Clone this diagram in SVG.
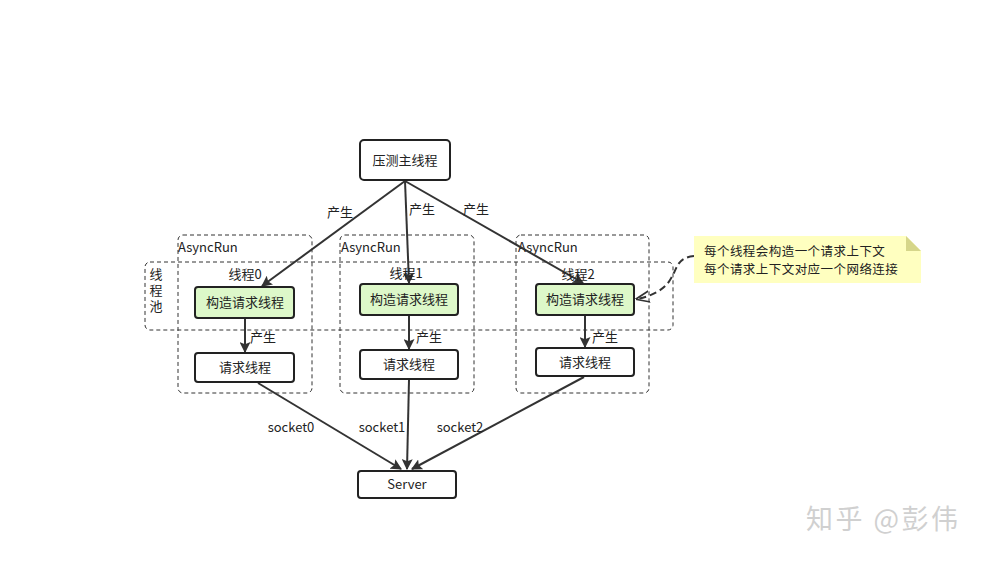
<svg xmlns="http://www.w3.org/2000/svg" width="984" height="561" viewBox="0 0 984 561">
<style>
text{font-family:"Noto Sans CJK SC","Liberation Sans",sans-serif;font-size:13px;fill:#222}
.c{text-anchor:middle}
.node{fill:#fff;stroke:#222;stroke-width:2}
.green{fill:#ddf8c9;stroke:#222;stroke-width:2}
.dash{fill:none;stroke:#333;stroke-width:1;stroke-dasharray:4 3}
.edge{fill:none;stroke:#333;stroke-width:2}
.note{font-size:12.5px;letter-spacing:0.45px}
</style>
<defs>
<marker id="ah2" viewBox="0 0 10 10" refX="9" refY="5" markerWidth="11" markerHeight="11" orient="auto" markerUnits="userSpaceOnUse">
<path d="M0,0 L10,5 L0,10 L2,5 Z" fill="#333"/>
</marker>
<marker id="open" viewBox="0 0 10 10" refX="9" refY="5" markerWidth="14" markerHeight="14" orient="auto" markerUnits="userSpaceOnUse">
<path d="M0,1 L10,5 L0,9" fill="none" stroke="#333" stroke-width="1.2"/>
</marker>
</defs>
<rect width="984" height="561" fill="#fff"/>

<g id="containers">
<rect class="dash" x="178" y="235" width="134" height="158" rx="5"/>
<text x="178" y="252">AsyncRun</text>
<rect class="dash" x="340" y="235" width="134" height="158" rx="5"/>
<text x="341" y="252">AsyncRun</text>
<rect class="dash" x="516" y="235" width="133" height="158" rx="5"/>
<text x="518" y="252">AsyncRun</text>
<rect class="dash" x="145" y="262" width="528" height="68" rx="5"/>
<text x="156" y="268" style="writing-mode:vertical-rl;letter-spacing:3px">线程池</text>
</g>

<g id="connectors">
<line class="edge" x1="405" y1="181" x2="262" y2="286" marker-end="url(#ah2)"/>
<line class="edge" x1="405" y1="181" x2="409" y2="283" marker-end="url(#ah2)"/>
<line class="edge" x1="405" y1="181" x2="583" y2="283" marker-end="url(#ah2)"/>
<line class="edge" x1="245" y1="319" x2="245" y2="352" marker-end="url(#ah2)"/>
<line class="edge" x1="409" y1="316" x2="409" y2="349" marker-end="url(#ah2)"/>
<line class="edge" x1="585" y1="316" x2="585" y2="347" marker-end="url(#ah2)"/>
<line class="edge" x1="258" y1="383" x2="401" y2="469" marker-end="url(#ah2)"/>
<line class="edge" x1="409" y1="380" x2="407" y2="469" marker-end="url(#ah2)"/>
<line class="edge" x1="584" y1="377" x2="412" y2="469" marker-end="url(#ah2)"/>
<path d="M694,256 C676,258 678,268 670,280 C664,290 652,296 637,299" fill="none" stroke="#333" stroke-width="2" stroke-dasharray="7 4" marker-end="url(#open)"/>
<text class="c" x="340" y="217">产生</text>
<text class="c" x="422" y="214">产生</text>
<text class="c" x="476" y="214">产生</text>
<text class="c" x="263" y="342">产生</text>
<text class="c" x="429" y="342">产生</text>
<text class="c" x="605" y="342">产生</text>
<text class="c" x="291" y="432">socket0</text>
<text class="c" x="382" y="432">socket1</text>
<text class="c" x="460" y="432">socket2</text>
</g>

<g id="main">
<rect class="node" x="360" y="140" width="90" height="40" rx="4"/>
<text class="c" x="405" y="165">压测主线程</text>
</g>

<g id="t0">
<text class="c" x="245" y="279">线程0</text>
<rect class="green" x="195" y="287" width="99" height="31" rx="3"/>
<text class="c" x="245" y="307">构造请求线程</text>
</g>
<g id="t1">
<text class="c" x="406" y="278">线程1</text>
<rect class="green" x="360" y="284" width="98" height="31" rx="3"/>
<text class="c" x="409" y="304">构造请求线程</text>
</g>
<g id="t2">
<text class="c" x="578" y="279">线程2</text>
<rect class="green" x="536" y="284" width="98" height="31" rx="3"/>
<text class="c" x="585" y="304">构造请求线程</text>
</g>

<g id="r0">
<rect class="node" x="195" y="353" width="99" height="29" rx="3"/>
<text class="c" x="245" y="372">请求线程</text>
</g>
<g id="r1">
<rect class="node" x="360" y="350" width="98" height="29" rx="3"/>
<text class="c" x="409" y="369">请求线程</text>
</g>
<g id="r2">
<rect class="node" x="536" y="348" width="98" height="28" rx="3"/>
<text class="c" x="585" y="367">请求线程</text>
</g>

<g id="server">
<rect class="node" x="358" y="471" width="98" height="27" rx="3"/>
<text class="c" x="407" y="489">Server</text>
</g>

<g id="note">
<path d="M694,236 L906,236 L921,251 L921,283 L694,283 Z" fill="#ffffc0"/>
<path d="M906,236 L921,251 L906,251 Z" fill="#d6d68a"/>
<text class="note" x="704" y="256">每个线程会构造一个请求上下文</text>
<text class="note" x="704" y="274">每个请求上下文对应一个网络连接</text>
</g>

<g id="watermark">
<text x="806" y="529" style="font-size:27px;fill:#d0d0d0;letter-spacing:2.5px">知乎 @彭伟</text>
</g>
</svg>
